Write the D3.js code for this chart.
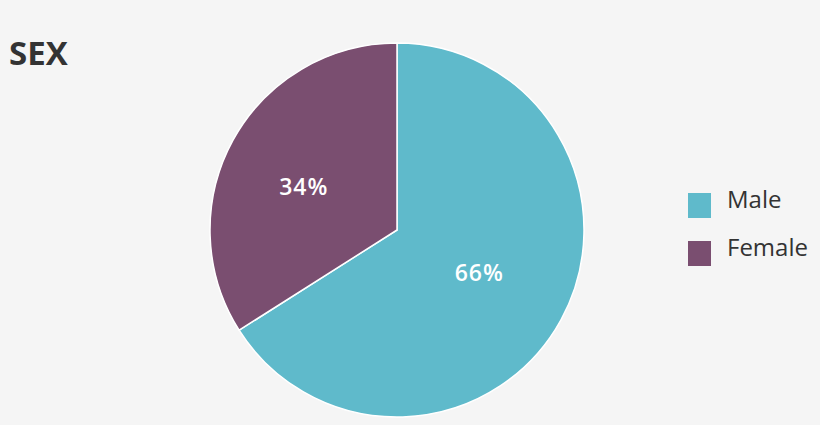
<!DOCTYPE html>
<html>
<head>
<meta charset="utf-8">
<script src="https://cdn.jsdelivr.net/npm/d3@7"></script>
<style>
  body { margin: 0; background: #f5f5f5; }
  svg { display: block; font-family: "Open Sans", "Noto Sans", sans-serif; }
</style>
</head>
<body>
<div id="chart"></div>
<script>
// chart values
const categories = ["Male", "Female"];
const shares = [66, 34];
const colors = ["#5fbacb", "#7a4e70"];

const width = 820, height = 425;
const cx = 397, cy = 230, radius = 187;

const svg = d3.select("#chart")
  .append("svg")
    .attr("width", width)
    .attr("height", height);

svg.append("rect")
  .attr("width", width)
  .attr("height", height)
  .attr("fill", "#f5f5f5");

svg.append("text")
  .attr("x", 9)
  .attr("y", 65)
  .attr("font-size", "33px")
  .attr("font-weight", "bold")
  .attr("fill", "#333")
  .text("SEX");

const data = categories.map((c, i) => ({ name: c, value: shares[i] }));

const color = d3.scaleOrdinal()
  .domain(categories)
  .range(colors);

const pie = d3.pie()
  .sort(null)
  .value(d => d.value);
const data_ready = pie(data);

const arc = d3.arc()
  .innerRadius(0)
  .outerRadius(radius);

const labelArc = d3.arc()
  .innerRadius(radius * 0.52)
  .outerRadius(radius * 0.52);

const g = svg.append("g")
  .attr("transform", `translate(${cx},${cy})`);

g.selectAll("path")
  .data(data_ready)
  .join("path")
  .attr("d", arc)
  .attr("fill", d => color(d.data.name))
  .attr("stroke", "#ffffff")
  .attr("stroke-width", 1.5);

// small nudges so labels sit where the original puts them
g.selectAll("text.pct")
  .data(data_ready)
  .join("text")
  .attr("class", "pct")
  .attr("transform", d => `translate(${labelArc.centroid(d)})`)
  .attr("text-anchor", "middle")
  .attr("dx", d => d.data.name === "Female" ? -8 : -3)
  .attr("dy", d => d.data.name === "Female" ? 12 : 4)
  .attr("font-size", "23px")
  .attr("font-weight", "600")
  .attr("letter-spacing", "1px")
  .attr("fill", "#ffffff")
  .text(d => d.data.value + "%");

// legend
const legend = svg.append("g")
  .attr("transform", "translate(688,193)");

const rows = legend.selectAll("g")
  .data(categories)
  .join("g")
  .attr("transform", (d, i) => `translate(0,${i * 48})`);

rows.append("rect")
  .attr("width", 23)
  .attr("height", 25)
  .attr("fill", d => color(d));

rows.append("text")
  .attr("x", 39)
  .attr("y", 15)
  .attr("font-size", "24px")
  .attr("fill", "#333")
  .text(d => d);
</script>
</body>
</html>
